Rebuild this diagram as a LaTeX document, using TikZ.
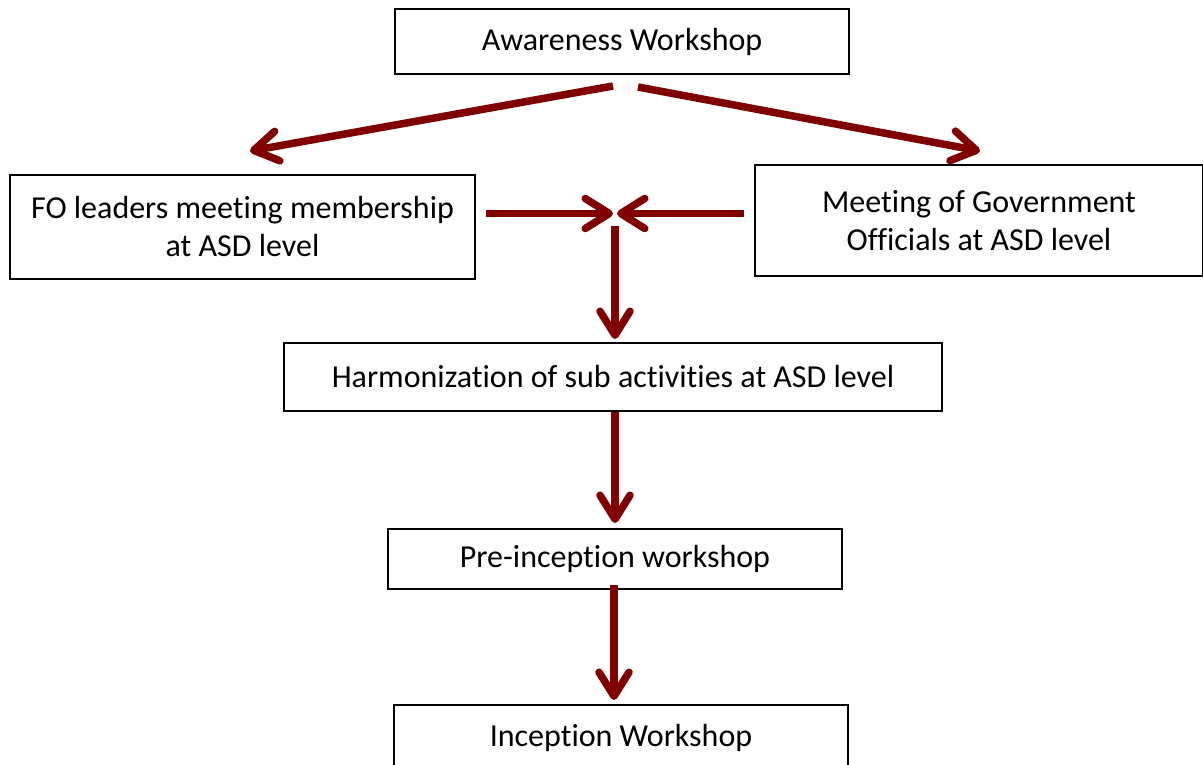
\documentclass[tikz,border=0pt]{standalone}
\usepackage{fontspec}
\setmainfont{Carlito}[Ligatures=NoCommon]
\usetikzlibrary{arrows.meta}
\definecolor{arrowred}{RGB}{128,0,0}
\tikzset{
  box/.style={draw=black, line width=1.8pt, fill=white, align=center, inner sep=0pt,
    font=\fontsize{32}{38}\selectfont},
  flow/.style={draw=arrowred, line width=7.5pt,
    -{Straight Barb[length=24pt, width=30pt, line cap=round, line join=round]}}
}
\begin{document}
\begin{tikzpicture}[x=1pt,y=-1pt]
\clip (0,0) rectangle (1203,765);
\fill[white] (0,0) rectangle (1203,765);
\node[box, minimum width=454pt, minimum height=65pt] (aw) at (622,41.5) {Awareness Workshop};
\node[box, minimum width=465pt, minimum height=104pt] (fo) at (242.5,227) {FO leaders meeting membership\\at ASD level};
\node[box, minimum width=448pt, minimum height=111pt] (gov) at (979,220.5) {Meeting of Government\\Officials at ASD level};
\node[box, minimum width=658pt, minimum height=68pt] (harm) at (613,377) {Harmonization of sub activities at ASD level};
\node[box, minimum width=454pt, minimum height=60pt] (pre) at (615,559) {Pre-inception workshop};
\node[box, minimum width=454pt, minimum height=65pt] (inc) at (621,737.5) {Inception Workshop};

\coordinate (s1) at (613,86);
\coordinate (t1) at (250,151);
\coordinate (s2) at (638,87);
\coordinate (t2) at (980,151);
\coordinate (s3) at (486,213.5);
\coordinate (t3) at (613,213.5);
\coordinate (s4) at (744,213.5);
\coordinate (t4) at (617,213.5);
\coordinate (s5) at (615,226);
\coordinate (t5) at (615,339);
\coordinate (s6) at (615,412);
\coordinate (t6) at (615,523);
\coordinate (s7) at (614,585);
\coordinate (t7) at (614,700);

\draw[flow] (s1) -- (t1);
\draw[flow] (s2) -- (t2);
\draw[flow] (s3) -- (t3);
\draw[flow] (s4) -- (t4);
\draw[flow] (s5) -- (t5);
\draw[flow] (s6) -- (t6);
\draw[flow] (s7) -- (t7);
\end{tikzpicture}
\end{document}
